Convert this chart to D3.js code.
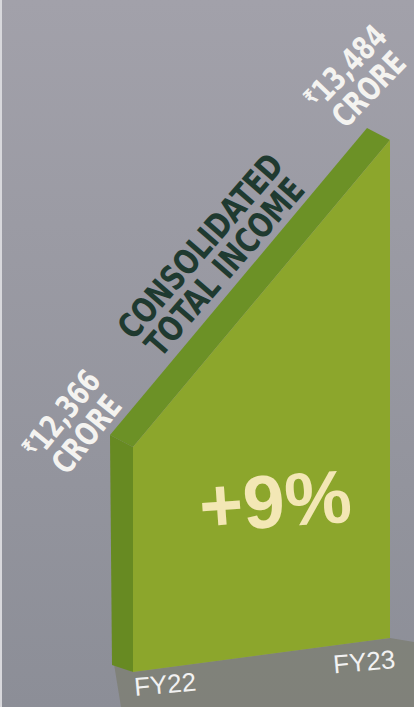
<!DOCTYPE html>
<html lang="en">
<head>
  <meta charset="UTF-8">
  <title>Consolidated total income</title>
  <script src="https://cdn.jsdelivr.net/npm/d3@7"></script>
  <style>
    * { margin: 0; padding: 0; }
    body { width: 414px; height: 707px; overflow: hidden; background: #999aa2; }
    .cond { font-family: "DejaVu Sans Condensed", "DejaVu Sans", sans-serif; font-stretch: condensed; font-weight: bold; }
  </style>
</head>
<body>
  <div id="chart"></div>
  <script>
  var categories = ["FY22", "FY23"];
  var values = [12366, 13484];
  var valueLabels = ["12,366", "13,484"];
  var unitLabel = "CRORE";
  var titleLines = ["CONSOLIDATED", "TOTAL INCOME"];
  var growthLabel = "+9%";

  var width = 414, height = 707;
  var svg = d3.select("#chart").append("svg")
      .attr("width", width)
      .attr("height", height);

  // 背景渐变
  var defs = svg.append("defs");
  var bg = defs.append("linearGradient").attr("id", "bg")
      .attr("x1", 0).attr("y1", 0).attr("x2", 0).attr("y2", 1);
  bg.append("stop").attr("offset", "0%").attr("stop-color", "#a2a1aa");
  bg.append("stop").attr("offset", "100%").attr("stop-color", "#8c8e97");
  svg.append("rect").attr("width", width).attr("height", height).attr("fill", "url(#bg)");
  svg.append("rect").attr("width", 2).attr("height", height).attr("fill", "#d8d8dc");

  // scales
  var x = d3.scalePoint().domain(categories).range([133, 390]);
  var floorY = d3.scaleLinear().domain([133, 390]).range([672, 638]);
  var h = d3.scaleLinear().domain([11445, 13484]).range([0, 498]);
  var depth = [-23, -12];

  var pts = categories.map(function (c, i) {
    var px = x(c);
    return { x: px, base: floorY(px), top: floorY(px) - h(values[i]) };
  });
  var L = pts[0], R = pts[1];

  // 地面阴影
  svg.append("path")
    .attr("fill", "#7a7c6e")
    .attr("opacity", 0.7)
    .attr("d", d3.line()([[L.x + depth[0] + 4, L.base + depth[1] + 4], [L.x, L.base], [R.x, R.base],
      [width, R.base + 4], [width, height], [L.x - 12, height]]));

  var line = d3.line();
  // 顶面
  svg.append("path").attr("fill", "#6c9126")
    .attr("d", line([[L.x + depth[0], L.top + depth[1]], [L.x, L.top], [R.x, R.top], [R.x + depth[0], R.top + depth[1]]]));
  // 左侧面
  svg.append("path").attr("fill", "#678a22")
    .attr("d", line([[L.x + depth[0], L.top + depth[1]], [L.x, L.top], [L.x, L.base], [L.x + depth[0] + 2, L.base - 7]]));
  // 正面
  svg.append("path").attr("fill", "#8ca62c")
    .attr("d", line([[L.x, L.top], [R.x, R.top], [R.x, R.base], [L.x, L.base]]));

  // value labels
  var labelLayout = [
    { dx: -58, dy: -22, angle: -51 },
    { dx: -32, dy: -61, angle: -46 }
  ];
  pts.forEach(function (p, i) {
    var lay = labelLayout[i];
    var g = svg.append("g")
      .attr("class", "cond")
      .attr("transform", "translate(" + (p.x + lay.dx) + "," + (p.top + lay.dy) + ") rotate(" + lay.angle + ") scale(0.82,1)")
      .attr("fill", "#f4f3f0")
      .attr("text-anchor", "middle");
    var t1 = g.append("text").attr("y", -9).style("font-size", "32px");
    t1.append("tspan").style("font-size", "21px").attr("dy", "-0.25em").text("₹");
    t1.append("tspan").attr("dy", "0.25em").text(valueLabels[i]);
    g.append("text").attr("y", 26).style("font-size", "32px").text(unitLabel);
  });

  // 标题
  var tg = svg.append("g")
    .attr("class", "cond")
    .attr("transform", "translate(213,257) rotate(-49) scale(0.87,1)")
    .attr("fill", "#1f3a30")
    .attr("text-anchor", "middle");
  tg.selectAll("text").data(titleLines).enter().append("text")
    .attr("y", function (d, i) { return -5 + i * 32; })
    .style("font-size", "34px")
    .text(function (d) { return d; });

  // +9%
  svg.append("text")
    .attr("transform", "translate(277,527) rotate(-4)")
    .attr("text-anchor", "middle")
    .attr("fill", "#f3e7b5")
    .style("font-family", "'Liberation Sans', Arial, sans-serif")
    .style("font-weight", "bold")
    .style("font-size", "75px")
    .text(growthLabel);

  // x labels
  var xLabelLayout = [
    { dx: 2, dy: 24, anchor: "start" },
    { dx: 6, dy: 30, anchor: "end" }
  ];
  svg.selectAll(".xl").data(categories).enter().append("text")
    .attr("class", "xl")
    .attr("transform", function (d, i) {
      var lay = xLabelLayout[i];
      return "translate(" + (x(d) + lay.dx) + "," + (floorY(x(d)) + lay.dy) + ") rotate(-5)";
    })
    .attr("text-anchor", function (d, i) { return xLabelLayout[i].anchor; })
    .attr("fill", "#f2f2f2")
    .style("font-family", "'Liberation Sans', Arial, sans-serif")
    .style("font-size", "26px")
    .text(function (d) { return d; });
  </script>
</body>
</html>
